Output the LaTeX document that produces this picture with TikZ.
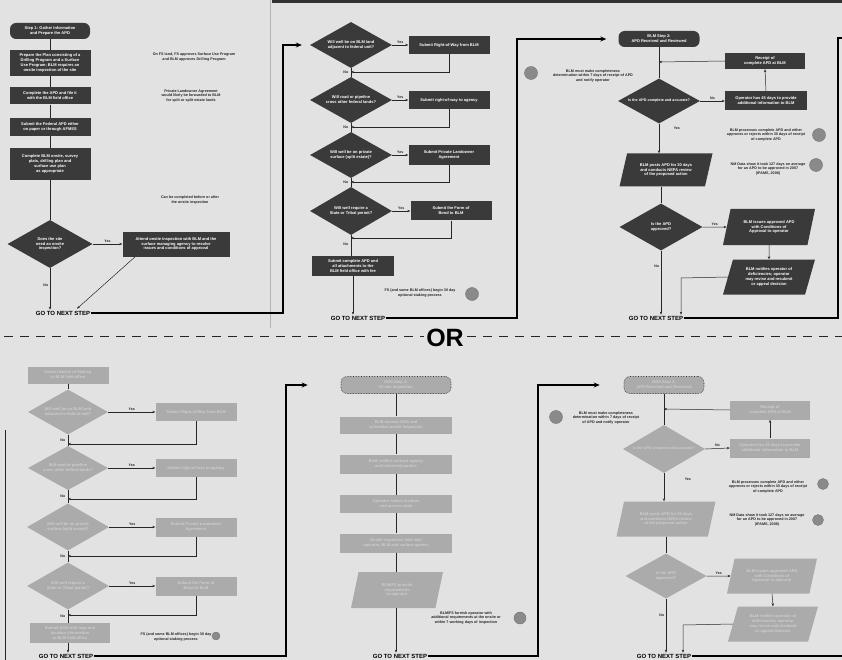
\documentclass[tikz,border=0pt]{standalone}
\usepackage{fontspec}
\setmainfont{Liberation Sans}
\usetikzlibrary{shapes.geometric,arrows.meta,calc}
\definecolor{bgc}{HTML}{E2E2E2}
\definecolor{dk}{HTML}{3A3A3A}
\definecolor{lt}{HTML}{ABABAB}
\definecolor{lttext}{HTML}{CDCDCD}
\definecolor{sealc}{HTML}{8A8A8A}
\tikzset{
  txtbase/.style={align=center, inner sep=1pt, font=\fontsize{4}{4.9}\selectfont\bfseries},
  dbox/.style={txtbase, rectangle, fill=dk, text=white, minimum width=81pt, minimum height=18pt},
  lbox/.style={txtbase, rectangle, fill=lt, text=lttext, minimum width=81pt, minimum height=18pt},
  drnd/.style={dbox, rounded corners=6pt},
  lrnd/.style={lbox, rounded corners=6pt, draw=black!80, densely dotted, line width=0.6pt},
  ddia/.style={txtbase, diamond, aspect=1.8, inner sep=0pt, fill=dk, text=white, minimum width=82pt, minimum height=46pt},
  ldia/.style={ddia, fill=lt, text=lttext},
  dpar/.style={txtbase, trapezium, trapezium left angle=64, trapezium right angle=116, trapezium stretches body=true, fill=dk, text=white, minimum width=92pt, minimum height=34pt},
  lpar/.style={dpar, fill=lt, text=lttext},
  note/.style={align=center, inner sep=0pt, text=black!85, font=\fontsize{3.7}{4.5}\selectfont\bfseries},
  lbl/.style={inner sep=0.5pt, text=black!85, font=\fontsize{3.6}{4}\selectfont\bfseries},
  gonext/.style={inner sep=1pt, font=\fontsize{6}{7}\selectfont\bfseries},
  seal/.style={circle, fill=sealc, draw=black!55, line width=0.4pt, minimum size=13pt, inner sep=0pt},
  ln/.style={draw=black!85, line width=0.5pt},
  arr/.style={ln, -{Stealth[length=3pt,width=2.4pt]}},
  bigln/.style={draw=black, line width=1.7pt},
  bigarr/.style={bigln, -{Stealth[length=6pt,width=5pt]}},
}
\begin{document}
\begin{tikzpicture}[x=1pt,y=-1pt]
\useasboundingbox (0,0) rectangle (842,660);
\fill[bgc] (0,0) rectangle (842,660);
\fill[black!80] (272,0) rectangle (842,3);
\draw[black!30, line width=0.8pt] (270,0) -- (270,328);

% ================= TOP LEFT =================
\node[drnd, minimum width=80pt, minimum height=16pt] (a0) at (50,31) {Step 1: Gather Information\\and Prepare the APD};
\node[dbox, minimum height=26pt] (a1) at (50,63) {Prepare the Plan consisting of a\\Drilling Program and a Surface\\Use Program; BLM requires an\\onsite inspection of the site};
\node[dbox, minimum height=17pt] (a2) at (50,96) {Complete the APD and file it\\with the BLM field office};
\node[dbox, minimum height=18pt] (a3) at (50,127) {Submit the Federal APD either\\on paper or through AFMSS};
\node[dbox, minimum height=32pt] (a4) at (50,164) {Complete BLM onsite, survey\\plats, drilling plan and\\surface use plan\\as appropriate};
\node[ddia, minimum width=85pt, minimum height=48pt] (a5) at (50,244) {Does the site\\need an onsite\\inspection?};
\node[dbox, minimum width=107pt, minimum height=25pt] (a6) at (176,244) {Attend onsite inspection with BLM and the\\surface managing agency to resolve\\issues and conditions of approval};
\node[gonext] (ga) at (63,313) {GO TO NEXT STEP};

\node[note] (na1) at (194,57) {On FS land, FS approves Surface Use Program\\and BLM approves Drilling Program};
\node[note] (na2) at (191,96) {Private Landowner Agreement\\would likely be forwarded to BLM\\for split or split estate lands};
\node[note] (na3) at (190,200) {Can be completed before or after\\the onsite inspection};

\draw[ln] (a0.south) -- (a1.north);
\draw[ln] (a1.south) -- (a2.north);
\draw[ln] (a2.south) -- (a3.north);
\draw[ln] (a3.south) -- (a4.north);
\draw[ln] (a4.south) -- (a5.north);
\draw[arr] (a5.east) -- node[lbl, above=1pt, pos=0.5] {Yes} (a6.west);
\draw[arr] (a5.south) -- node[lbl, left=1pt, pos=0.4] {No} (ga.north -| a5.south);
\draw[arr] ($(a6.south west)!0.12!(a6.south east)$) -- ($(ga.north)+(14,-1)$);

\coordinate (k1) at (283,313);
\coordinate (k2) at (283,45);

% ================= TOP MIDDLE =================
\node[ddia] (b1) at (351,45) {Will well be on BLM land\\adjacent to federal unit?};
\node[dbox] (c1) at (449,45) {Submit Right-of-Way from BLM};
\coordinate (r1) at (351,72);
\node[ddia] (b2) at (351,100) {Will road or pipeline\\cross other federal lands?};
\node[dbox] (c2) at (449,100) {Submit right-of-way to agency};
\coordinate (r2) at (351,127);
\node[ddia] (b3) at (351,155) {Will well be on private\\surface (split estate)?};
\node[dbox, minimum height=20pt] (c3) at (449,155) {Submit Private Landowner\\Agreement};
\coordinate (r3) at (351,182);
\node[ddia, minimum height=48pt] (b4) at (351,211) {Will well require a\\State or Tribal permit?};
\node[dbox, minimum height=19pt] (c4) at (451,211) {Submit the Form of\\Bond to BLM};
\coordinate (r4) at (351,238);
\node[dbox, minimum width=82pt, minimum height=20pt] (b5) at (353,266) {Submit complete APD and\\all attachments to the\\BLM field office with fee};
\node[gonext] (gb) at (358,318) {GO TO NEXT STEP};
\node[note] (nb) at (420,293) {FS (and some BLM offices) begin 30 day\\optional staking process};
\node[seal] (sb) at (472,294) {};

\draw[bigarr, shorten >=8pt] (ga.east) -- (k1) -- (k2) -- (b1.west);

\draw[arr] (b1.east) -- node[lbl, above=1pt] {Yes} (c1.west);
\draw[arr] (c1.south) |- (r1);
\draw[ln] (b1.south) -- node[lbl, left=2pt] {No} (b2.north);
\draw[arr] (b2.east) -- node[lbl, above=1pt] {Yes} (c2.west);
\draw[arr] (c2.south) |- (r2);
\draw[ln] (b2.south) -- node[lbl, left=2pt] {No} (b3.north);
\draw[arr] (b3.east) -- node[lbl, above=1pt] {Yes} (c3.west);
\draw[arr] (c3.south) |- (r3);
\draw[ln] (b3.south) -- node[lbl, left=2pt] {No} (b4.north);
\draw[arr] (b4.east) -- node[lbl, above=1pt] {Yes} (c4.west);
\draw[arr] (c4.south) |- (r4);
\draw[ln] (b4.south) -- node[lbl, left=2pt, pos=0.45] {No} (b5.north -| b4.south);
\draw[arr] (b5.south) -- (gb.north -| b5.south);

\coordinate (k3) at (517,318);
\coordinate (k4) at (517,39);

% ================= TOP RIGHT =================
\node[drnd, minimum width=81pt, minimum height=16pt] (e0) at (659,39) {BLM Step 2:\\APD Received and Reviewed};
\node[dbox, minimum width=80pt, minimum height=16pt] (e1) at (765,61) {Receipt of\\complete APD at BLM};
\coordinate (q1) at (659,62);
\node[ddia, minimum height=45pt, font=\fontsize{3.7}{4.4}\selectfont\bfseries] (e2) at (659,101) {Is the APD complete and accurate?};
\node[dbox, minimum width=82pt, minimum height=19pt] (e4) at (766,101) {Operator has 45 days to provide\\additional information to BLM};
\node[dpar, minimum width=93pt, minimum height=33pt] (e3) at (666,170) {BLM posts APD for 30 days\\and conducts NEPA review\\of the proposed action};
\node[ddia, minimum width=83pt, minimum height=47pt] (e5) at (661,227) {Is the APD\\approved?};
\node[dpar, minimum width=92pt, minimum height=36pt] (e6) at (769,227) {BLM issues approved APD\\with Conditions of\\Approval to operator};
\node[dpar, minimum width=92pt, minimum height=35pt] (e7) at (769,277) {BLM notifies operator of\\deficiencies; operator\\may revise and resubmit\\or appeal decision};
\coordinate (q2) at (681,278);
\node[gonext] (gc) at (656,318) {GO TO NEXT STEP};

\node[note] (ne1) at (593,76) {BLM must make completeness\\determination within 7 days of receipt of APD\\and notify operator};
\node[seal] (se1) at (531,73) {};
\node[note] (ne2) at (766,135) {BLM processes complete APD and either\\approves or rejects within 30 days of receipt\\of complete APD};
\node[seal] (se2) at (819,135) {};
\node[note] (ne3) at (768,169) {NM Data show it took 127 days on average\\for an APD to be approved in 2007\\(IPAMS, 2008)};
\node[seal] (se3) at (816,165) {};

\draw[bigarr, shorten >=12pt] (gb.east) -- (k3) -- (k4) -- (e0.west);

\draw[ln] (e0.south) -- (e2.north);
\draw[arr] (e1.west) -- (q1);
\draw[arr] (e2.east) -- node[lbl, above=1pt] {No} (e4.west);
\draw[arr] (e4.north) -- (e1.south);
\draw[arr] (e2.south) -- node[lbl, right=14pt, pos=0.15] {Yes} (e3.north -| e2.south);
\draw[ln] (e3.south -| e5.north) -- (e5.north);
\draw[arr] (e5.east) -- node[lbl, above=1pt] {Yes} (e6.west);
\draw[arr] (e6.south) -- (e7.north);
\draw[arr] (e7.west) -- (q2) -- (gc.north -| q2);
\draw[arr] (e5.south) -- node[lbl, left=1pt, pos=0.25] {No} (gc.north -| e5.south);

\coordinate (k5) at (838,318);
\coordinate (k6) at (838,38);
\coordinate (k7) at (842,38);
\draw[bigln] (gc.east) -- (k5) -- (k6) -- (k7);

% ================= OR DIVIDER =================
\coordinate (o1) at (4,336);
\coordinate (o2) at (424,336);
\coordinate (o3) at (467,336);
\coordinate (o4) at (842,336);
\draw[black!85, line width=1pt, dash pattern=on 9pt off 7pt] (o1) -- (o2);
\draw[black!85, line width=1pt, dash pattern=on 9pt off 7pt] (o3) -- (o4);
\node[inner sep=0pt, font=\fontsize{25}{25}\selectfont\bfseries] (orl) at (445,338) {OR};

% ================= BOTTOM LEFT =================
\coordinate (v1) at (5,430);
\coordinate (v2) at (5,660);
\draw[ln, line width=0.8pt] (v1) -- (v2);

\node[lbox, minimum width=81pt, minimum height=17pt] (f0) at (68,375) {Submit Notice of Staking\\to BLM field office};
\node[ldia, minimum width=80pt, minimum height=45pt] (f1) at (68,412) {Will well be on BLM land\\adjacent to federal unit?};
\node[lbox] (g1) at (196,412) {Submit Right-of-Way from BLM};
\coordinate (s1) at (68,444);
\node[ldia, minimum width=80pt, minimum height=44pt] (f2) at (68,468) {Will road or pipeline\\cross other federal lands?};
\node[lbox] (g2) at (196,468) {Submit right-of-way to agency};
\coordinate (s2) at (68,499);
\node[ldia, minimum width=82pt, minimum height=47pt] (f3) at (68,527) {Will well be on private\\surface (split estate)?};
\node[lbox, minimum height=19pt] (g3) at (196,527) {Submit Private Landowner\\Agreement};
\coordinate (s3) at (68,556);
\node[ldia, minimum width=82pt, minimum height=47pt] (f4) at (68,586) {Will well require a\\State or Tribal permit?};
\node[lbox, minimum height=19pt] (g4) at (196,586) {Submit the Form of\\Bond to BLM};
\coordinate (s4) at (68,615);
\node[lbox, minimum width=80pt, minimum height=20pt] (f5) at (70,633) {Submit NOS with map and\\location information\\to BLM field office};
\node[gonext] (gd) at (66,656) {GO TO NEXT STEP};
\node[note] (nd) at (176,637) {FS (and some BLM offices) begin 30 day\\optional staking process};
\node[seal, minimum size=8pt] (sd) at (216,636) {};

\draw[ln] (f0.south) -- (f1.north);
\draw[arr] (f1.east) -- node[lbl, above=1pt] {Yes} (g1.west);
\draw[arr] (g1.south) |- (s1);
\draw[ln] (f1.south) -- node[lbl, left=2pt] {No} (f2.north);
\draw[arr] (f2.east) -- node[lbl, above=1pt] {Yes} (g2.west);
\draw[arr] (g2.south) |- (s2);
\draw[ln] (f2.south) -- node[lbl, left=2pt] {No} (f3.north);
\draw[arr] (f3.east) -- node[lbl, above=1pt] {Yes} (g3.west);
\draw[arr] (g3.south) |- (s3);
\draw[ln] (f3.south) -- node[lbl, left=2pt] {No} (f4.north);
\draw[arr] (f4.east) -- node[lbl, above=1pt] {Yes} (g4.west);
\draw[arr] (g4.south) |- (s4);
\draw[ln] (f4.south) -- node[lbl, left=2pt] {No} (f5.north -| f4.south);
\draw[arr] (f5.south -| f4.south) -- (gd.north -| f4.south);

\coordinate (k9) at (286,656);
\coordinate (k10) at (286,385);

% ================= BOTTOM MIDDLE =================
\node[lrnd, minimum width=110pt, minimum height=17pt] (h0) at (396,385) {NOS Step 2:\\Onsite Inspection};
\node[lbox, minimum width=112pt, minimum height=17pt] (h1) at (396,425) {BLM reviews NOS and\\schedules onsite inspection};
\node[lbox, minimum width=112pt, minimum height=19pt] (h2) at (396,464) {BLM notifies surface agency\\and interested parties};
\node[lbox, minimum width=112pt, minimum height=18pt] (h3) at (396,504) {Operator stakes location\\and access route};
\node[lbox, minimum width=112pt, minimum height=19pt] (h4) at (396,543) {Onsite inspection held with\\operator, BLM and surface agency};
\node[lpar, minimum width=92pt, minimum height=36pt] (h5) at (397,590) {BLM/FS provide\\requirements\\to operator};
\node[gonext] (ge) at (400,656) {GO TO NEXT STEP};
\node[note] (nh) at (466,618) {BLM/FS furnish operator with\\additional requirements at the onsite or\\within 7 working days of inspection};
\node[seal, minimum size=12pt] (sh) at (520,618) {};

\draw[bigarr, shorten >=33pt] (gd.east) -- (k9) -- (k10) -- (h0.west);
\draw[ln] (h0.south) -- (h1.north);
\draw[ln] (h1.south) -- (h2.north);
\draw[ln] (h2.south) -- (h3.north);
\draw[ln] (h3.south) -- (h4.north);
\draw[ln] (h4.south) -- (h5.north -| h4.south);
\draw[arr] (h5.south -| h4.south) -- (ge.north -| h4.south);

\coordinate (k11) at (538,656);
\coordinate (k12) at (538,385);

% ================= BOTTOM RIGHT =================
\node[lrnd, minimum width=80pt, minimum height=17pt] (i0) at (664,385) {NOS Step 3:\\APD Received and Reviewed};
\node[lbox, minimum width=80pt, minimum height=19pt] (i1) at (770,410) {Receipt of\\complete APD at BLM};
\coordinate (t1) at (664,409);
\node[ldia, minimum width=82pt, minimum height=48pt, font=\fontsize{3.7}{4.4}\selectfont\bfseries] (i2) at (664,449) {Is the APD complete and accurate?};
\node[lbox, minimum width=80pt, minimum height=19pt] (i3) at (770,448) {Operator has 45 days to provide\\additional information to BLM};
\node[lpar, minimum width=99pt, minimum height=35pt] (i4) at (666,519) {BLM posts APD for 30 days\\and conducts NEPA review\\of the proposed action};
\node[ldia, minimum width=81pt, minimum height=45pt] (i5) at (666,576) {Is the APD\\approved?};
\node[lpar, minimum width=90pt, minimum height=35pt] (i6) at (772,576) {BLM issues approved APD\\with Conditions of\\Approval to operator};
\node[lpar, minimum width=90pt, minimum height=35pt] (i7) at (773,624) {BLM notifies operator of\\deficiencies; operator\\may revise and resubmit\\or appeal decision};
\coordinate (t2) at (683,625);
\node[gonext] (gf) at (664,656) {GO TO NEXT STEP};

\node[note] (ni1) at (606,418) {BLM must make completeness\\determination within 7 days of receipt\\of APD and notify operator};
\node[seal] (si1) at (556,417) {};
\node[note] (ni2) at (768,487) {BLM processes complete APD and either\\approves or rejects within 30 days of receipt\\of complete APD};
\node[seal, minimum size=11pt] (si2) at (823,484) {};
\node[note] (ni3) at (767,520) {NM Data show it took 127 days on average\\for an APD to be approved in 2007\\(IPAMS, 2008)};
\node[seal, minimum size=11pt] (si3) at (818,520) {};

\draw[bigarr, shorten >=24pt] (ge.east) -- (k11) -- (k12) -- (i0.west);

\draw[ln] (i0.south) -- (i2.north);
\draw[arr] (i1.west) -- (t1);
\draw[arr] (i2.east) -- node[lbl, above=1pt] {No} (i3.west);
\draw[arr] (i3.north) -- (i1.south);
\draw[arr] (i2.south) -- node[lbl, right=20pt, pos=0.2] {Yes} (i4.north -| i2.south);
\draw[ln] (i4.south -| i5.north) -- (i5.north);
\draw[arr] (i5.east) -- node[lbl, above=1pt] {Yes} (i6.west);
\draw[arr] (i6.south) -- (i7.north);
\draw[arr] (i7.west) -- (t2) -- (gf.north -| t2);
\draw[arr] (i5.south) -- node[lbl, left=1pt, pos=0.3] {No} (gf.north -| i5.south);

\coordinate (k13) at (842,656);
\draw[bigln] (gf.east) -- (k13);
\end{tikzpicture}
\end{document}
